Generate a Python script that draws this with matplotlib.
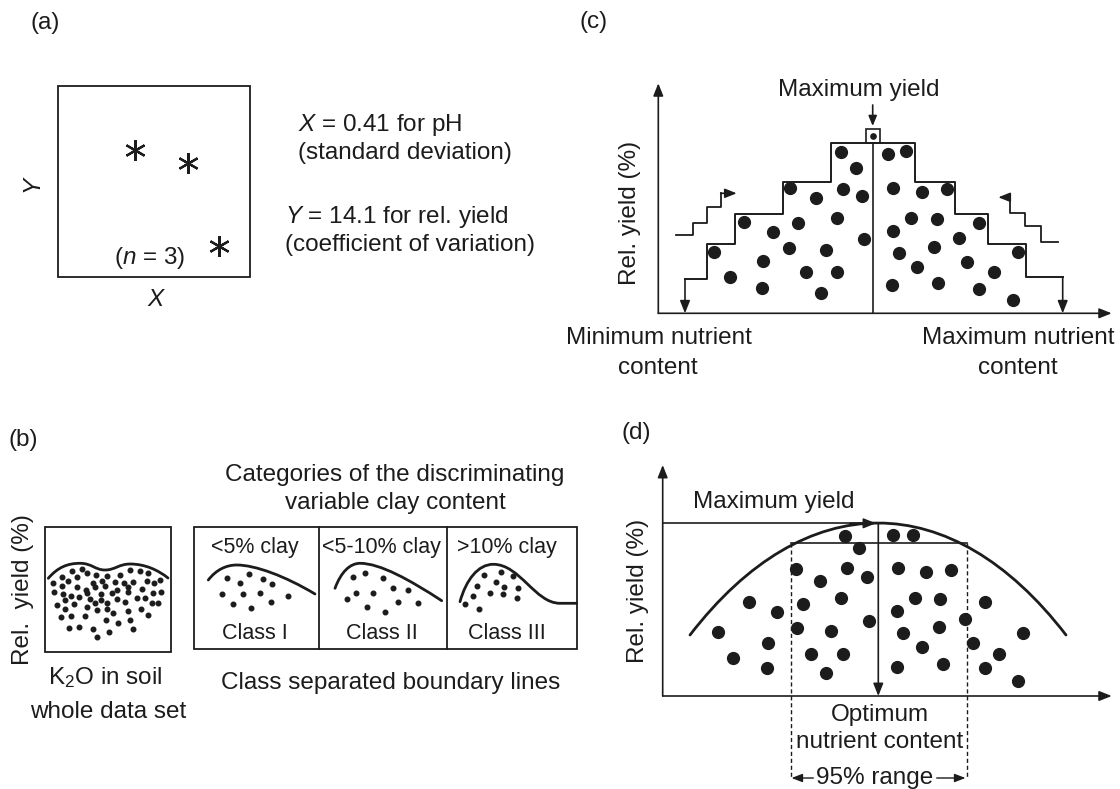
import matplotlib
matplotlib.use("Agg")
import matplotlib.pyplot as plt
from matplotlib.path import Path
from matplotlib.patches import PathPatch, Rectangle

plt.rcParams['font.family'] = ['Liberation Sans', 'DejaVu Sans']
plt.rcParams['mathtext.fontset'] = 'custom'
plt.rcParams['mathtext.rm'] = 'Liberation Sans'
plt.rcParams['mathtext.it'] = 'Liberation Sans:italic'

INK = '#1c1c1c'
FS = 17.5

# ---------------- data (canvas units) ----------------
# (a) three observations
a_star_x = [135, 188.3, 219.3]
a_star_y = [150, 163.3, 246]

# (b) whole data set cloud
b_all_x = [71.7, 81.7, 130, 140, 61.7, 76.7, 86.7, 96, 107.3, 120, 148.3, 53.3, 68.3, 93.3,
           101.7, 115, 124.3, 133.3, 146.7, 61.7, 76.7, 86, 95, 105, 116.7, 128.3, 141.7, 154,
           54, 63.3, 70.7, 79.3, 87.3, 100.7, 111.7, 128.3, 137.3, 145, 153.3, 65, 90, 100.7,
           107.3, 117.3, 125, 151.7, 56.7, 74.3, 87.3, 95, 106.7, 141, 65, 96.7, 113.3, 128.3,
           60.7, 70.7, 85, 106, 118.3, 130, 148.3, 69.3, 79.3, 92.7, 109.3, 132.7, 96.7,
           160, 161, 158]
b_all_y = [570.7, 569.3, 570, 570.7, 577.3, 576.7, 573.3, 575, 576, 575, 573.3, 582.7, 580.7,
           582.7, 580.7, 581.7, 583.3, 581.7, 580.7, 586, 586.7, 590, 587.3, 586, 590, 586.7,
           589.3, 583.3, 591.7, 594, 596, 597.3, 592.7, 594, 592.7, 591.7, 598.3, 598.3, 592.7,
           600, 599.3, 600, 603.3, 599.3, 601.7, 602.7, 605, 604, 606.7, 603.3, 609.3, 609.3,
           609.3, 610, 613.3, 610.7, 617.3, 616, 616, 620, 623.3, 620, 615, 628.3, 627.3,
           629.3, 631.7, 629.3, 636.7, 580, 592, 603]

# (b) class clouds
cls1_x = [226.7, 240, 249.3, 262.7, 271.7, 221.7, 243.3, 260, 288.3, 232.7, 270.7, 251]
cls1_y = [578.3, 582.7, 574.3, 579.3, 584, 594, 594, 592.7, 596, 604, 601.7, 608.3]
cls2_x = [353.3, 365, 383.3, 392.7, 408.3, 356, 372.7, 346.7, 397.7, 417.7, 366.7, 385]
cls2_y = [577.3, 573.3, 578.3, 588.3, 590, 592.7, 593.3, 599.3, 601.7, 602.7, 607.3, 612.3]
cls3_x = [484.3, 500.7, 512.7, 476.7, 496, 504, 518.3, 473.3, 490, 502.7, 516.7, 465, 479.3]
cls3_y = [575, 571.7, 576, 586, 581.7, 586.7, 587.7, 596, 592.7, 594, 598.3, 604.3, 609.3]
cls_labels = ['<5% clay', '<5-10% clay', '>10% clay']
cls_names = ['Class I', 'Class II', 'Class III']

# boundary curves (cubic Bezier knots)
wave_all = [(48.3, 578.3), (58, 567), (68, 563.3), (80, 563.3), (92, 563.3), (95, 570), (105, 570),
            (115, 570), (119, 564), (130, 564), (145, 564), (158, 570), (168, 578)]
curve_c1 = [(208.3, 580), (216, 570), (226, 565), (236.7, 565), (255, 565), (285, 576), (315, 594)]
curve_c2 = [(335, 588.3), (341, 572), (350, 563.3), (360, 563.3), (380, 563.3), (410, 580), (441.7, 600.7)]
curve_c3 = [(460, 601.7), (466, 580), (478, 564.3), (493.3, 564.3), (520, 564.3), (535, 603.3), (560, 603.3)]

# (c) boundary-line staircase and observations
stair_x = [685, 706.7, 706.7, 735, 735, 782.7, 782.7, 831, 831, 915, 915, 955, 955,
           988.3, 988.3, 1026, 1026, 1062.7]
stair_y = [279.3, 279.3, 244, 244, 214, 214, 181.7, 181.7, 142.7, 142.7, 181.7, 181.7,
           214, 214, 244, 244, 277.3, 277.3]
icon_l_x = [676, 693.3, 693.3, 707.3, 707.3, 720.7, 720.7]
icon_l_y = [235, 235, 222.7, 222.7, 207.3, 207.3, 193.3]
icon_r_x = [1058.3, 1040.7, 1040.7, 1025, 1025, 1010, 1010]
icon_r_y = [241.7, 241.7, 226, 226, 212.7, 212.7, 197.3]
c_dot_x = [840.7, 855.7, 790, 842.7, 862.3, 815.7, 744, 798.3, 836.7, 773.3, 864, 714.3,
           789.3, 826, 762.7, 730, 805.7, 837.3, 761.7, 821,
           888.3, 906, 893.3, 921.7, 946.7, 910.7, 936.7, 892.7, 979.3, 959.3, 934, 899.3,
           1017.7, 967.3, 917.3, 994, 891.7, 938.3, 979.3, 1013.3]
c_dot_y = [151.7, 167.7, 188.3, 189, 196, 197.7, 222.3, 223.3, 217.7, 232.3, 239.3, 252.3,
           248.3, 250, 261, 277.3, 272.3, 271.7, 288.3, 293.3,
           154.3, 151, 188.3, 192.3, 189, 217.7, 219.3, 231, 223.3, 238.3, 246.7, 252.7,
           252.3, 261.7, 266.7, 272.3, 285, 283.3, 289, 300]

# (d) quadratic response and observations
d_curve = [(690, 635), (805, 485.7), (951, 485.7), (1066, 635)]
d_dot_x = [845, 892.7, 912.7, 859.3, 796, 847.3, 866.7, 820, 897.7, 926, 951, 749.3, 776.7,
           803.3, 840.7, 869, 896.7, 915, 940, 985, 965, 718.3, 796.7, 831, 903.3, 939,
           1022.7, 768.3, 972.7, 921.7, 733.3, 810.7, 842.7, 999.3, 766.7, 826, 896.7,
           943.3, 985, 1017.7]
d_dot_y = [536, 535, 535, 548.3, 569.3, 568.3, 576.7, 581, 568.3, 571.7, 570, 602.3, 611.7,
           604.3, 597.7, 620.7, 611, 598.3, 599.3, 601.7, 619.3, 632.3, 628.3, 630.7, 633.3,
           627.3, 632.7, 643.3, 643.3, 647.3, 657.7, 654, 654, 654, 668.3, 672.7, 666.7,
           664, 668.3, 680.7]

# ---------------- figure ----------------
fig = plt.figure(figsize=(11.2, 7.89), dpi=100)
ax = fig.add_axes([0, 0, 1, 1])
ax.set_xlim(0, 1120)
ax.set_ylim(789, 0)
ax.axis('off')


def arrow(x0, y0, x1, y1, hl=0.75, hw=0.3, lw=1.2):
    ax.annotate('', xy=(x1, y1), xytext=(x0, y0),
                arrowprops=dict(arrowstyle='-|>,head_length=%g,head_width=%g' % (hl, hw),
                                color=INK, lw=lw, shrinkA=0, shrinkB=0, mutation_scale=10))


def bezier(pts, lw=2.0, extra=None):
    verts = list(pts)
    codes = [Path.MOVETO] + [Path.CURVE4] * (len(pts) - 1)
    if extra is not None:
        verts.append(extra)
        codes.append(Path.LINETO)
    ax.add_patch(PathPatch(Path(verts, codes), fill=False, lw=lw, ec=INK, capstyle='round'))


def box(x0, y0, x1, y1, lw=1.3):
    ax.add_patch(Rectangle((x0, y0), x1 - x0, y1 - y0, fill=False, lw=lw, ec=INK))


def txt(x, y, s, size=FS, **kw):
    kw.setdefault('ha', 'center')
    kw.setdefault('va', 'center')
    ax.text(x, y, s, fontsize=size, color=INK, **kw)


# panel labels
txt(44.9, 23, '(a)')
txt(594, 22, '(c)')
txt(23, 440, '(b)')
txt(636.7, 433, '(d)')

# ---- (a)
box(58.3, 86, 250, 277.3)
ax.plot(a_star_x, a_star_y, ls='none', marker=(6, 2, 0), ms=15, mew=1.6, color=INK)
txt(150, 258.3, '($n$ = 3)')
txt(35, 185, '$Y$', rotation=90)
txt(156.7, 300, '$X$')
txt(298.3, 125, '$X$ = 0.41 for pH', ha='left')
txt(298.3, 153.3, '(standard deviation)', ha='left')
txt(285, 216.7, '$Y$ = 14.1 for rel. yield', ha='left')
txt(285, 245, '(coefficient of variation)', ha='left')

# ---- (b)
box(45, 527.3, 171, 651.7)
bezier(wave_all, lw=2.0)
ax.plot(b_all_x, b_all_y, ls='none', marker='o', ms=3.3, color=INK)
txt(23, 590, 'Rel.  yield (%)', rotation=90)
txt(105, 678, 'K$_2$O in soil')
txt(107.7, 711.7, 'whole data set')

box(194, 527.3, 576.7, 649.3)
for xd in [319.3, 447.3]:
    ax.plot([xd, xd], [527.3, 649.3], color=INK, lw=1.3)
bezier(curve_c1)
bezier(curve_c2)
bezier(curve_c3, extra=(576.7, 603.3))
for xs, ys in [(cls1_x, cls1_y), (cls2_x, cls2_y), (cls3_x, cls3_y)]:
    ax.plot(xs, ys, ls='none', marker='o', ms=3.3, color=INK)
for cx, lab, name in zip([255, 381.7, 506.7], cls_labels, cls_names):
    txt(cx, 547.5, lab, size=15.5)
    txt(cx, 633.3, name, size=15.5)
txt(394.2, 475, 'Categories of the discriminating')
txt(395.2, 503, 'variable clay content')
txt(390.4, 683, 'Class separated boundary lines')

# ---- (c)
arrow(658.3, 313.3, 658.3, 83.3)
arrow(658.3, 313.3, 1111.7, 313.3)
ax.plot(stair_x, stair_y, color=INK, lw=1.4)
arrow(stair_x[0], stair_y[0], stair_x[0], 313.3)
arrow(stair_x[-1], stair_y[-1], stair_x[-1], 313.3)
ax.plot([873.3, 873.3], [142.7, 313.3], color=INK, lw=1.2)
ax.plot(icon_l_x, icon_l_y, color=INK, lw=1.3)
arrow(icon_l_x[-1], icon_l_y[-1], 736.7, icon_l_y[-1], hl=0.7, hw=0.28)
ax.plot(icon_r_x, icon_r_y, color=INK, lw=1.3)
arrow(icon_r_x[-1], icon_r_y[-1], 998.3, icon_r_y[-1], hl=0.7, hw=0.28)
ax.add_patch(Rectangle((866, 129.3), 14, 13.4, fill=False, lw=1.2, ec=INK))
ax.plot([873.3], [136], marker='o', ms=3.8, color=INK)
arrow(872.7, 105, 872.7, 126, hl=0.6, hw=0.25)
ax.plot(c_dot_x, c_dot_y, ls='none', marker='o', ms=8.5, color=INK, zorder=3)
txt(859.2, 90, 'Maximum yield')
txt(630, 212.5, 'Rel. yield (%)', rotation=90)
txt(658.5, 338.3, 'Minimum nutrient')
txt(658.3, 368.3, 'content')
txt(1018.3, 338.3, 'Maximum nutrient')
txt(1018.3, 368.3, 'content')

# ---- (d)
arrow(662.7, 696, 662.7, 465)
arrow(662.7, 696, 1111.7, 696)
bezier(d_curve, lw=2.0)
ax.plot([662.7, 878.3], [523.3, 523.3], color=INK, lw=1.2)
arrow(850, 523.3, 876, 523.3)
arrow(878.3, 523.3, 878.3, 696)
ax.plot([790.7, 966.7], [543.3, 543.3], color=INK, lw=1.2)
for xd in [790.7, 966.7]:
    ax.plot([xd, xd], [543.3, 778], color=INK, lw=1.0, ls=(0, (3, 2)))
ax.plot(d_dot_x, d_dot_y, ls='none', marker='o', ms=8.5, color=INK, zorder=3)
txt(773.3, 502.3, 'Maximum yield')
txt(638, 590.8, 'Rel. yield (%)', rotation=90)
txt(880, 715, 'Optimum')
txt(880, 741.7, 'nutrient content')
txt(875, 778, '95% range')
arrow(813.3, 778, 791.5, 778, hl=0.65, hw=0.25, lw=1.0)
arrow(936.7, 778, 965.5, 778, hl=0.65, hw=0.25, lw=1.0)

fig.savefig('out.png', dpi=100, facecolor='white')
